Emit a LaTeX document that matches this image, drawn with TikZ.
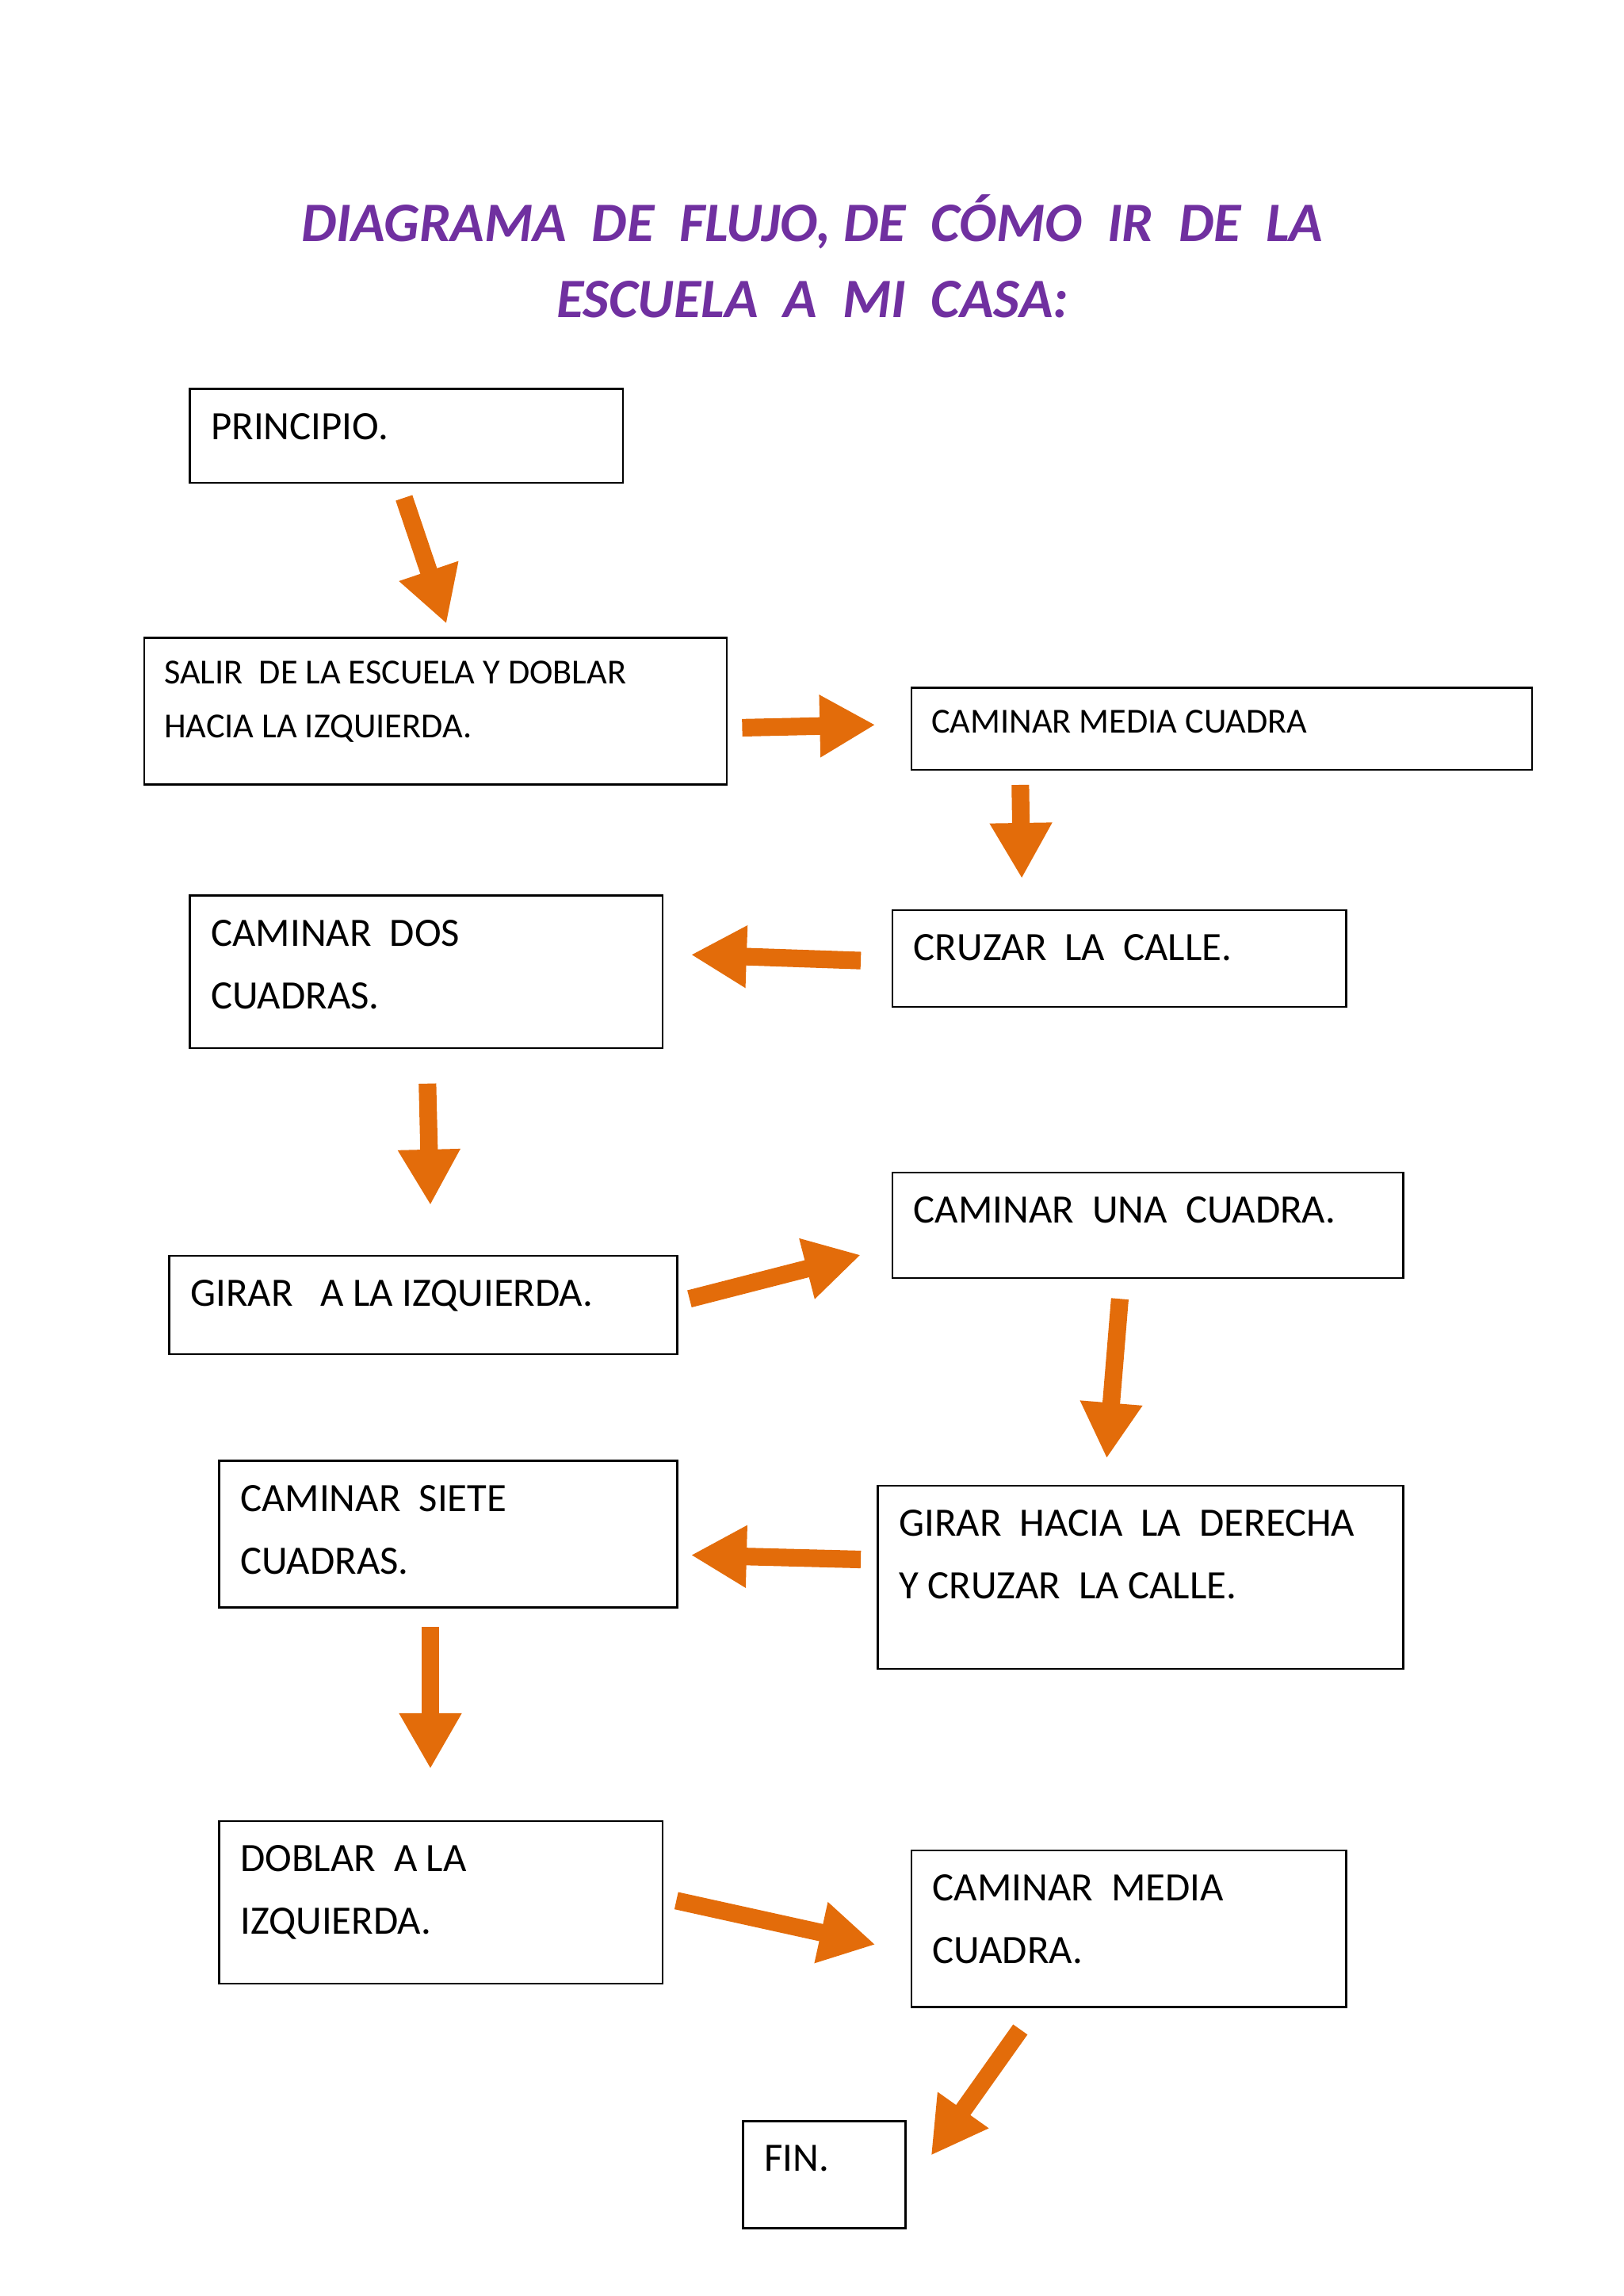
\documentclass[tikz,border=0pt]{standalone}
\usepackage{fontspec}
\setmainfont{Carlito}
\usetikzlibrary{arrows.meta,calc}
\definecolor{arr}{HTML}{E36C0A}
\definecolor{ttl}{HTML}{7030A0}
\tikzset{
 box/.style={draw=black,line width=1.3pt,anchor=north west,inner sep=0pt},
 txt/.style={anchor=north west,align=left,inner sep=0pt,font=\fontsize{27.5}{43}\selectfont},
 blk/.style={draw=arr,line width=12pt,-{Triangle[length=38pt,width=40pt]}}
}
\begin{document}
\begin{tikzpicture}[x=1pt,y=-1pt]
\useasboundingbox (0,0) rectangle (1109,1568);
\node[font=\fontsize{38}{52}\selectfont\bfseries\itshape,text=ttl,align=center] (t) at (555,175) {DIAGRAMA\ \ DE\ \ FLUJO,\ DE\ \ CÓMO\ \ IR\ \ DE\ \ LA\\ESCUELA\ \ A\ \ MI\ \ CASA:};
\newcommand{\bx}[6]{\node[box,minimum width=#4-#2,minimum height=#5-#3] (#1) at (#2,#3) {};
\node[txt] (#1t) at ($(#1.north west)+(15,17)$) {#6};}
\bx{b1}{129}{265}{425}{329}{PRINCIPIO.}
\node[box,minimum width=398,minimum height=100] (b2) at (98,435) {};
\node[txt,font=\fontsize{24}{37}\selectfont] (b2t) at ($(b2.north west)+(14,16)$) {SALIR\ \ DE LA ESCUELA Y DOBLAR\\HACIA LA IZQUIERDA.};
\node[box,minimum width=424,minimum height=56] (b3) at (622,469) {};
\node[txt,font=\fontsize{24}{37}\selectfont] (b3t) at ($(b3.north west)+(14,16)$) {CAMINAR MEDIA CUADRA};
\bx{b4}{609}{621}{919}{687}{CRUZAR\ \ LA\ \ CALLE.}
\bx{b5}{129}{611}{452}{715}{CAMINAR\ \ DOS\\CUADRAS.}
\bx{b6}{115}{857}{462}{924}{GIRAR\ \ \ A LA IZQUIERDA.}
\bx{b7}{609}{800}{958}{872}{CAMINAR\ \ UNA\ \ CUADRA.}
\bx{b8}{149}{997}{462}{1097}{CAMINAR\ \ SIETE\\CUADRAS.}
\bx{b9}{599}{1014}{958}{1139}{GIRAR\ \ HACIA\ \ LA\ \ DERECHA\\Y CRUZAR\ \ LA CALLE.}
\bx{b10}{149}{1243}{452}{1354}{DOBLAR\ \ A LA\\IZQUIERDA.}
\bx{b11}{622}{1263}{919}{1370}{CAMINAR\ \ MEDIA\\CUADRA.}
\bx{b12}{507}{1448}{618}{1521}{FIN.}
\foreach \n/\a/\b/\c/\d in {1/276/340/305/426, 2/507/497/598/495, 3/697/536/698/600, 4/588/656/472/652, 5/292/740/294/823, 6/471/887/588/857, 7/765/887/756/996, 8/588/1065/472/1062, 9/294/1111/294/1208, 10/462/1298/598/1328, 11/697/1386/636/1472}{
 \coordinate (s\n) at (\a,\b); \coordinate (e\n) at (\c,\d);
 \draw[blk] (s\n) -- (e\n);}
\end{tikzpicture}
\end{document}
